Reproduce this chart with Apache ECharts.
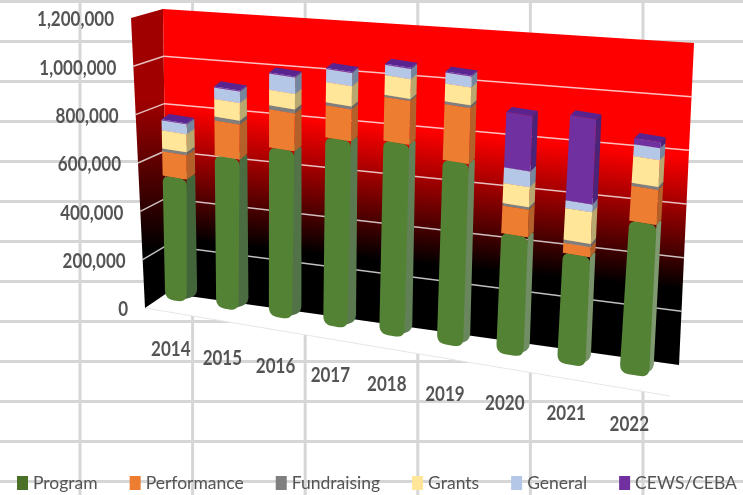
<!DOCTYPE html>
<html>
<head>
<meta charset="utf-8">
<title>Revenue by source</title>
<script src="https://cdn.jsdelivr.net/npm/echarts@6/dist/echarts.min.js"></script>
<style>
  html, body { margin: 0; padding: 0; background: #fff; }
  /* spreadsheet cells behind the chart */
  #chart {
    width: 743px; height: 495px;
    background-image: linear-gradient(#d6d6d6 3px, transparent 3px), linear-gradient(90deg, #d6d6d6 3px, transparent 3px);
    background-size: 100% 40px, 112.6px 100%;
    background-position: 0 0, 78.5px 0;
  }
</style>
</head>
<body>
<div id="chart"></div>
<script>
const categories = ['2014', '2015', '2016', '2017', '2018', '2019', '2020', '2021', '2022']
const yTicks = [0, 200000, 400000, 600000, 800000, 1000000, 1200000]

// values
const program = [510000, 618000, 676000, 740000, 751000, 702000, 451000, 407000, 555000]
const performance = [100000, 142000, 152000, 126000, 170000, 213000, 104000, 37000, 127000]
const fundraising = [12000, 16000, 16000, 12000, 8000, 11000, 9000, 12000, 11000]
const grants = [75000, 72000, 62000, 80000, 77000, 68000, 75000, 117000, 98000]
const general = [41000, 47000, 66000, 52000, 40000, 42000, 60000, 29000, 43000]
const cews = [4000, 4000, 4000, 4000, 4000, 4000, 208000, 315000, 22000]

const seriesNames = ['Program', 'Performance', 'Fundraising', 'Grants', 'General', 'CEWS/CEBA']
const seriesValues = [program, performance, fundraising, grants, general, cews]
const frontColors = ['#548235', '#ed7d31', '#7f7f7f', '#ffe699', '#b4c7e7', '#7030a0']
const sideColors = ['#4a6b38', '#b3602a', '#646464', '#b8a76e', '#74879f', '#4b2378']
const topColors = ['#6ea34a', '#f29555', '#959595', '#fff0bd', '#cfdcf2', '#5a2490']
const legendColors = ['#4b7128', '#ed7d31', '#7f7f7f', '#ffe699', '#b4c7e7', '#7030a0']

const labelColor = '#545454'
const font = 'Lato, Carlito, sans-serif'

const lerp = (a, b, t) => a + (b - a) * t

// 把平面坐标映射到透视的墙面 (the flat grid is only a scale, this bends it into the 3D look)
const warp = u => u + 0.13 * u * (u - 1)

// plane through the middle of the bars
function barPoint (c, sys, side, depth) {
  const u = warp((c[0] - sys.x) / sys.width)
  const v = (sys.y + sys.height - c[1]) / sys.height
  const k = Math.min(v * 1.3, 1)
  const bx = lerp(150.7, 666.5, u)
  const by = lerp(296.7, 380.3, u)
  const tx = lerp(146.7, 686.5, u)
  const ty = lerp(8.7, 48.3, u)
  const hw = lerp(lerp(10.5, 15, u), 13, k) * side
  return [
    lerp(bx, tx, v) + hw + depth * lerp(lerp(11, 4, u), lerp(7, 5, u), k),
    lerp(by, ty, v) + hw * 0.16 - depth * lerp(7, 5, k)
  ]
}

// back wall and left wall corners are positions of the frame, not data
function wallPoint (u, v) {
  return [lerp(lerp(167, 679, u), lerp(163, 694, u), v), lerp(lerp(293, 365, u), lerp(9, 43, u), v)]
}
function sidePoint (t, v) {
  return [lerp(lerp(145, 167, t), lerp(131, 163, t), v), lerp(lerp(308, 293, t), lerp(18, 9, t), v)]
}

// polygon with quadratic corners
function roundPoly (pts, radii) {
  const out = []
  const n = pts.length
  pts.forEach((p, i) => {
    const r = radii[i]
    if (!r) { out.push(p); return }
    const a = pts[(i + n - 1) % n]
    const b = pts[(i + 1) % n]
    const la = Math.hypot(a[0] - p[0], a[1] - p[1])
    const lb = Math.hypot(b[0] - p[0], b[1] - p[1])
    const ra = Math.min(r, la / 2) / la
    const rb = Math.min(r, lb / 2) / lb
    const s = [p[0] + (a[0] - p[0]) * ra, p[1] + (a[1] - p[1]) * ra]
    const e = [p[0] + (b[0] - p[0]) * rb, p[1] + (b[1] - p[1]) * rb]
    for (let k = 0; k <= 6; k++) {
      const t = k / 6
      out.push([
        (1 - t) * (1 - t) * s[0] + 2 * t * (1 - t) * p[0] + t * t * e[0],
        (1 - t) * (1 - t) * s[1] + 2 * t * (1 - t) * p[1] + t * t * e[1]
      ])
    }
  })
  return out
}

const poly = (points, fill) => ({ type: 'polygon', shape: { points }, style: { fill } })
const line = (a, b, stroke, lineWidth) => ({
  type: 'line',
  shape: { x1: a[0], y1: a[1], x2: b[0], y2: b[1] },
  style: { stroke, lineWidth }
})
// the reference text is tall and narrow, so a larger font squeezed sideways
const text = (str, x, y, align) => ({
  type: 'text',
  x,
  y,
  scaleX: 0.85,
  style: { text: str, x: 0, y: 0, align, verticalAlign: 'middle', fontFamily: font, fontWeight: 'bold', fontSize: 20, fill: labelColor }
})

function renderWalls (params, api) {
  const sys = params.coordSys
  const children = []
  // floor
  children.push(poly([[145, 308], [670, 396], [679, 365], [167, 293]], '#ffffff'))
  children.push(line([145, 308], [670, 396], '#e6e6e6', 1))
  // left wall
  children.push(poly([sidePoint(0, 0), sidePoint(1, 0), sidePoint(1, 1), sidePoint(0, 1)], {
    type: 'linear', global: true, x: 0, y: 100, x2: 0, y2: 250,
    colorStops: [{ offset: 0, color: '#a00000' }, { offset: 1, color: '#000000' }]
  }))
  // back wall
  children.push(poly([wallPoint(0, 0), wallPoint(1, 0), wallPoint(1, 1), wallPoint(0, 1)], {
    type: 'linear', global: true, x: 167, y: 105, x2: 154, y2: 238,
    colorStops: [{ offset: 0, color: '#ff0000' }, { offset: 1, color: '#000000' }]
  }))
  // gridlines and tick labels
  yTicks.forEach(tick => {
    const v = (sys.y + sys.height - api.coord([0, tick])[1]) / sys.height
    if (tick > 0 && tick < 1200000) {
      children.push(line(sidePoint(0, v), sidePoint(1, v), 'rgba(255,255,255,0.75)', 1.5))
      children.push(line(wallPoint(0, v), wallPoint(1, v), 'rgba(255,255,255,0.75)', 1.5))
    }
    const p = sidePoint(0, v)
    children.push(text(tick.toLocaleString('en-US'), p[0] - 17, p[1] + 2, 'right'))
  })
  return { type: 'group', children }
}

function renderSegment (s) {
  return function (params, api) {
    const sys = params.coordSys
    const low = api.coord([api.value(0), api.value(1)])
    const high = api.coord([api.value(0), api.value(2)])
    const bl = barPoint(low, sys, -1, 0)
    const br = barPoint(low, sys, 1, 0)
    const brb = barPoint(low, sys, 1, 1)
    const tl = barPoint(high, sys, -1, 0)
    const tr = barPoint(high, sys, 1, 0)
    const trb = barPoint(high, sys, 1, 1)
    const tlb = barPoint(high, sys, -1, 1)
    const rounded = s === 0 // Program bars have soft corners
    // the green side fades lighter towards the right
    const side = rounded ? echarts.color.lerp(params.dataIndex / 8, ['#43653a', '#7f9a70']) : sideColors[s]
    // side starts inside the front face so the rounded corner leaves no gap
    const inner = barPoint(low, sys, 0.2, 0)
    return {
      type: 'group',
      children: [
        poly(rounded ? roundPoly([tl, tr, trb, tlb], [5, 3, 3, 3]) : [tl, tr, trb, tlb], topColors[s]),
        poly(rounded ? roundPoly([inner, brb, trb, tr], [0, 7, 3, 0]) : [br, brb, trb, tr], side),
        poly(rounded ? roundPoly([bl, br, tr, tl], [9, 9, 7, 7]) : [bl, br, tr, tl], frontColors[s])
      ]
    }
  }
}

function renderCategory (params, api) {
  const p = barPoint(api.coord([api.value(0), 0]), params.coordSys, 0, 0)
  return text(categories[params.dataIndex], p[0] - 5, p[1] + 49, 'center')
}

// 累加成堆叠区间
const totals = categories.map(() => 0)
const barSeries = seriesValues.map((values, s) => {
  const data = values.map((val, i) => {
    const start = totals[i]
    totals[i] += val
    return [i, start, totals[i]]
  })
  return {
    name: seriesNames[s],
    type: 'custom',
    renderItem: renderSegment(s),
    itemStyle: { color: legendColors[s] },
    encode: { x: 0, y: [1, 2] },
    data,
    z: 3 + s
  }
})

const myChart = echarts.init(document.getElementById('chart'), null, { renderer: 'canvas' })
myChart.setOption({
  animation: false,
  backgroundColor: 'transparent',
  tooltip: { show: false },
  grid: { left: 150, right: 60, top: 20, bottom: 120 },
  xAxis: { type: 'category', data: categories, show: false },
  yAxis: { type: 'value', min: 0, max: 1200000, interval: 200000, show: false },
  legend: {
    data: seriesNames,
    left: 12,
    top: 469,
    itemWidth: 11,
    itemHeight: 14,
    itemGap: 32,
    icon: 'rect',
    textStyle: { fontFamily: font, fontSize: 17.5, color: labelColor }
  },
  series: [
    { type: 'custom', renderItem: renderWalls, data: [[0, 0]], silent: true, z: 1 },
    ...barSeries,
    { type: 'custom', renderItem: renderCategory, data: categories.map((c, i) => [i, 0]), silent: true, z: 20 }
  ]
})
</script>
</body>
</html>
